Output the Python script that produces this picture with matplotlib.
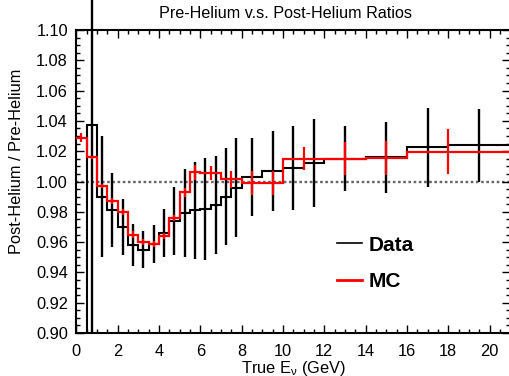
import matplotlib
matplotlib.use('Agg')
import matplotlib.pyplot as plt
import numpy as np
from matplotlib.ticker import MultipleLocator, FormatStrFormatter
from matplotlib.transforms import Bbox, TransformedBbox

plt.rcParams['font.family'] = ['Liberation Sans', 'DejaVu Sans']
plt.rcParams['mathtext.fontset'] = 'custom'
plt.rcParams['mathtext.rm'] = 'Liberation Sans'
plt.rcParams['mathtext.it'] = 'Liberation Sans'

# data histogram (bin edges, ratio, error)
black_edges = [0, 0.5, 1, 1.5, 2, 2.5, 3, 3.5, 4, 4.5, 5, 5.5, 6, 6.5, 7, 7.5, 8,
               9, 10, 11, 12, 14, 16, 18, 21]
black_vals = [0.0, 1.037, 0.990, 0.981, 0.970, 0.958, 0.955, 0.959, 0.966, 0.974,
              0.979, 0.981, 0.982, 0.9845, 0.990, 0.996, 1.003, 1.007, 1.009, 1.012,
              1.015, 1.016, 1.0225, 1.024]
black_err = [0.0, 0.2, 0.040, 0.0245, 0.0185, 0.014, 0.012, 0.0125, 0.016, 0.0225,
             0.029, 0.032, 0.0335, 0.0325, 0.032, 0.0325, 0.026, 0.0265, 0.0275, 0.029,
             0.0215, 0.0235, 0.026, 0.024]

# MC histogram
red_edges = [0, 0.5, 1, 1.5, 2, 2.5, 3, 3.5, 4, 4.5, 5, 5.5, 6,
             7, 8, 9, 10, 12, 14, 16, 21]
red_vals = [1.029, 1.016, 0.997, 0.987, 0.980, 0.965, 0.960, 0.959, 0.964, 0.976,
            0.993, 1.006, 1.0055, 1.0015, 0.999, 0.999, 1.015, 1.015, 1.0155, 1.0197]
red_x = [0.25, 0.75, 1.25, 1.75, 2.25, 2.75, 3.25, 3.75, 4.25, 4.75, 5.25, 5.75,
         6.5, 7.5, 8.5, 9.5, 11, 13, 15, 18]
red_err = [0.003, 0.001, 0.0015, 0.002, 0.002, 0.002, 0.002, 0.002, 0.002, 0.002,
           0.003, 0.0047, 0.0045, 0.0055, 0.0077, 0.008, 0.0077, 0.011, 0.011, 0.015]

black_x = (np.array(black_edges[:-1]) + np.array(black_edges[1:])) / 2

fig = plt.figure(figsize=(5.1, 3.76), dpi=100)
ax = fig.add_axes([76.3 / 510, 43 / 376, 434 / 510, 303 / 376])

ax.axhline(1.0, color='#666666', lw=1.7, ls=(0, (1.1, 1.1)), zorder=1)

ax.stairs(black_vals, black_edges, baseline=None, color='black', lw=1.5, zorder=2)
eb = ax.errorbar(black_x, black_vals, yerr=black_err, fmt='none', ecolor='black',
                 elinewidth=1.7, capsize=0, zorder=2)
# data error bars run past the top of the frame, as in the original
clip = TransformedBbox(Bbox([[0, 0], [1, 1.2]]), ax.transAxes)
for c in eb.lines[2]:
    c.set_clip_box(clip)

ax.stairs(red_vals, red_edges, baseline=None, color='red', lw=1.6, zorder=3)
ax.errorbar(red_x, red_vals, yerr=red_err, fmt='none', ecolor='red',
            elinewidth=1.6, capsize=0, zorder=3)

ax.set_xlim(0, 21)
ax.set_ylim(0.90, 1.10)
ax.xaxis.set_major_locator(MultipleLocator(2))
ax.xaxis.set_minor_locator(MultipleLocator(0.5))
ax.yaxis.set_major_locator(MultipleLocator(0.02))
ax.yaxis.set_minor_locator(MultipleLocator(0.005))
ax.yaxis.set_major_formatter(FormatStrFormatter('%.2f'))
ax.tick_params(which='both', direction='in', top=True, right=True, width=1)
ax.tick_params(which='major', length=5.8)
ax.tick_params(which='minor', length=2.8)
ax.tick_params(axis='x', labelsize=11.8, pad=8)
ax.tick_params(axis='y', labelsize=11.8, pad=6)
for s in ax.spines.values():
    s.set_linewidth(1.5)

ax.set_xlabel(r'True E$_{\nu}$ (GeV)', fontsize=11.8)
ax.xaxis.set_label_coords(0.5, -(368 - 333) / 303)
ax.xaxis.label.set_va('center')
ax.set_ylabel('Post-Helium / Pre-Helium', fontsize=11.8)
ax.yaxis.set_label_coords((16.5 - 76.3) / 434, (333 - 161) / 303)
ax.yaxis.label.set_va('center')

fig.text(286 / 510, 1 - 14 / 376, 'Pre-Helium v.s. Post-Helium Ratios',
         ha='center', va='center', fontsize=11.6)

h1, = ax.plot([], [], color='black', lw=1.2)
h2, = ax.plot([], [], color='red', lw=2)
ax.legend([h1, h2], ['Data', 'MC'], loc='center left',
          bbox_to_anchor=(337 / 510, 1 - 263.5 / 376), bbox_transform=fig.transFigure,
          frameon=False, prop={'weight': 'bold', 'size': 15}, handlelength=1.2,
          handletextpad=0.3, labelspacing=0.85, borderpad=0, borderaxespad=0)

fig.savefig('out.png', dpi=100)
